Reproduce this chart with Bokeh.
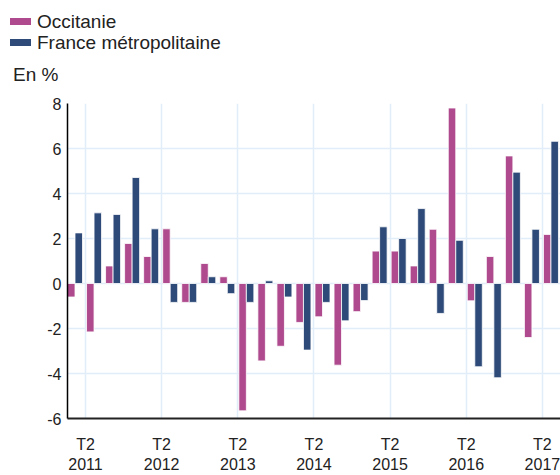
import numpy as np
from bokeh.plotting import figure
from bokeh.layouts import column
from bokeh.models import Range1d, FixedTicker, ColumnDataSource, Div
from bokeh.embed import file_html
from bokeh.resources import INLINE

# Quarters T1 2011 .. T2 2017
quarters = ["T1 2011", "T2 2011", "T3 2011", "T4 2011",
            "T1 2012", "T2 2012", "T3 2012", "T4 2012",
            "T1 2013", "T2 2013", "T3 2013", "T4 2013",
            "T1 2014", "T2 2014", "T3 2014", "T4 2014",
            "T1 2015", "T2 2015", "T3 2015", "T4 2015",
            "T1 2016", "T2 2016", "T3 2016", "T4 2016",
            "T1 2017", "T2 2017"]
occitanie = [-0.6, -2.15, 0.78, 1.78, 1.2, 2.43, -0.84, 0.89, 0.3, -5.66, -3.44, -2.79,
             -1.73, -1.48, -3.63, -1.25, 1.44, 1.44, 0.78, 2.41, 7.8, -0.77, 1.2, 5.67,
             -2.4, 2.18]
france = [2.25, 3.14, 3.07, 4.71, 2.43, -0.84, -0.84, 0.3, -0.45, -0.84, 0.12, -0.6,
          -2.96, -0.84, -1.66, -0.76, 2.52, 2.0, 3.33, -1.33, 1.92, -3.7, -4.19, 4.95,
          2.41, 6.32]
series_names = ["Occitanie", "France métropolitaine"]
tick_labels = {1: "T2\n2011", 5: "T2\n2012", 9: "T2\n2013", 13: "T2\n2014",
               17: "T2\n2015", 21: "T2\n2016", 25: "T2\n2017"}
y_ticks = [-6, -4, -2, 0, 2, 4, 6, 8]
unit_label = "En %"

OCC_COLOR = "#ae4a8d"
FR_COLOR = "#2d4a78"
GRID = "#e2edfa"
FONT = "Liberation Sans"
TXT = "#222222"

idx = np.arange(len(quarters))
src = ColumnDataSource(dict(
    q=quarters,
    x_occ=idx + 0.252,
    x_fr=idx + 0.646,
    occ=occitanie,
    fr=france,
))

# ---------- header (legend + unit) ----------
def legend_row(top, color, label):
    return (f'<div style="position:absolute;left:10px;top:{top + 7}px;width:21px;height:7px;'
            f'background:{color};"></div>'
            f'<div style="position:absolute;left:37px;top:{top}px;line-height:21px;'
            f'white-space:nowrap;">{label}</div>')

header_html = (
    f'<div style="position:relative;width:560px;height:93px;font-family:\'{FONT}\';'
    f'font-size:19px;color:{TXT};">'
    + legend_row(11, OCC_COLOR, series_names[0])
    + legend_row(32, FR_COLOR, series_names[1])
    + f'<div style="position:absolute;left:13px;top:64px;line-height:21px;'
      f'white-space:nowrap;">{unit_label}</div>'
    + '</div>'
)
head = Div(text=header_html, width=560, height=93, margin=0)

# ---------- main chart ----------
p = figure(width=560, height=382, output_backend="svg", toolbar_location=None,
           x_range=Range1d(0.055, 25.95), y_range=Range1d(-6, 8),
           min_border_left=67, min_border_right=0, min_border_top=10, min_border_bottom=56)
p.title = None
p.outline_line_color = None
p.background_fill_color = "white"

p.vbar(x="x_occ", top="occ", bottom=0, width=0.394, source=src,
       fill_color=OCC_COLOR, line_color="white", line_width=0.8,
       legend_label=series_names[0])
p.vbar(x="x_fr", top="fr", bottom=0, width=0.394, source=src,
       fill_color=FR_COLOR, line_color="white", line_width=0.8,
       legend_label=series_names[1])
p.legend.visible = False

p.xaxis.ticker = FixedTicker(ticks=list(tick_labels.keys()))
p.xaxis.major_label_overrides = tick_labels
p.yaxis.ticker = FixedTicker(ticks=y_ticks)
p.yaxis.major_label_overrides = {v: str(v) for v in y_ticks}
for ax in (p.xaxis[0], p.yaxis[0]):
    ax.major_tick_line_color = None
    ax.major_tick_out = 0
    ax.major_tick_in = 0
    ax.minor_tick_line_color = None
    ax.minor_tick_out = 0
    ax.major_label_text_font = FONT
    ax.major_label_text_font_size = "16px"
    ax.major_label_text_color = TXT
p.xaxis.axis_line_color = TXT
p.xaxis.axis_line_width = 2
p.xaxis.major_label_standoff = 17
p.yaxis.axis_line_color = "black"
p.yaxis.axis_line_width = 1.5
p.yaxis.major_label_standoff = 6

p.xgrid.grid_line_color = GRID
p.ygrid.grid_line_color = GRID
p.xgrid.grid_line_width = 1.5
p.ygrid.grid_line_width = 1.5

layout = column(head, p, spacing=0)
open("out.html", "w").write(file_html(layout, INLINE))
